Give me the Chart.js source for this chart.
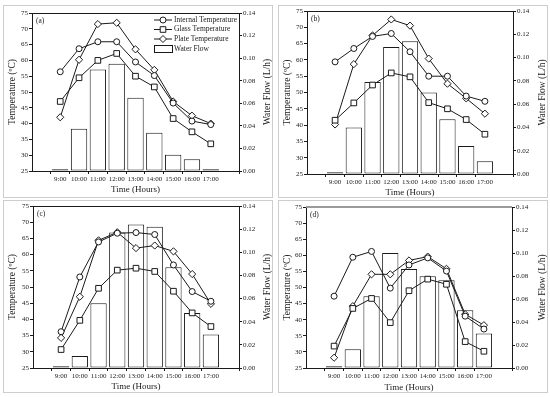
<!DOCTYPE html>
<html>
<head>
<meta charset="utf-8">
<script src="https://cdn.jsdelivr.net/npm/chart.js@4.4.1/dist/chart.umd.min.js"></script>
<style>
body { margin: 0; background: #fff; width: 550px; height: 397px; position: relative; overflow: hidden; }
.moldura { position: absolute; box-sizing: border-box; border: 1px solid #cdcdcd; }
canvas { position: absolute; }
</style>
</head>
<body>
<div class="moldura" style="left:3px;top:5px;width:270px;height:193px"></div>
<div class="moldura" style="left:278px;top:5px;width:270px;height:193px"></div>
<div class="moldura" style="left:3px;top:200px;width:270px;height:193px"></div>
<div class="moldura" style="left:278px;top:200px;width:270px;height:193px"></div>
<canvas id="grafico_a" width="275" height="198" style="left:0;top:0"></canvas>
<canvas id="grafico_b" width="275" height="198" style="left:275px;top:0"></canvas>
<canvas id="grafico_c" width="275" height="199" style="left:0;top:198px"></canvas>
<canvas id="grafico_d" width="275" height="199" style="left:275px;top:198px"></canvas>
<script>
/* horas do ensaio e rotulos do eixo x */
const horas = [9, 10, 11, 12, 13, 14, 15, 16, 17];
const rotulos_horas = ['9:00', '10:00', '11:00', '12:00', '13:00', '14:00', '15:00', '16:00', '17:00'];

const nomes_series = ['Internal Temperature', 'Glass Temperature', 'Plate Temperature'];
const nome_vazao = 'Water Flow';

/* (a) */
const interna_a = [56.4, 63.7, 65.9, 65.9, 59.5, 55.2, 46.5, 40.8, 39.7];
const vidro_a = [47.0, 54.5, 60.0, 62.2, 55.0, 51.6, 41.6, 37.4, 33.6];
const placa_a = [42.0, 60.2, 71.5, 71.9, 63.5, 57.0, 47.0, 42.5, 40.0];
const vazao_a = [0.0016, 0.0375, 0.090, 0.095, 0.065, 0.034, 0.0145, 0.0105, 0.0016];

/* (b) */
const interna_b = [59.4, 63.5, 67.2, 68.1, 62.5, 55.0, 55.0, 48.9, 47.3];
const vidro_b = [41.5, 46.8, 52.3, 56.0, 54.8, 46.9, 45.0, 41.7, 37.2];
const placa_b = [40.2, 58.7, 67.5, 72.4, 70.5, 60.4, 52.7, 48.2, 43.5];
const vazao_b = [0.0016, 0.040, 0.079, 0.109, 0.114, 0.070, 0.047, 0.024, 0.011];

/* (c) */
const interna_c = [36.2, 53.1, 63.9, 66.6, 66.8, 66.2, 56.8, 48.6, 45.6];
const vidro_c = [30.7, 39.7, 49.6, 55.2, 55.8, 54.8, 48.7, 42.0, 37.8];
const placa_c = [34.3, 47.0, 64.4, 66.9, 62.0, 62.8, 61.0, 54.0, 44.8];
const vazao_c = [0.0016, 0.0104, 0.056, 0.117, 0.124, 0.122, 0.087, 0.0476, 0.029];

/* (d) */
const interna_d = [47.3, 59.4, 61.2, 49.8, 57.0, 59.2, 55.1, 41.1, 37.1];
const vidro_d = [31.8, 43.5, 46.6, 39.1, 49.0, 52.6, 51.0, 33.2, 30.2];
const placa_d = [28.2, 44.2, 54.1, 54.1, 58.4, 59.6, 55.8, 41.7, 38.3];
const vazao_d = [0.0016, 0.0162, 0.0624, 0.0999, 0.086, 0.0797, 0.0762, 0.0502, 0.030];

const fonte = 'Liberation Serif';
const preto = '#1a1a1a';

function pontos(valores) {
    return horas.map((h, i) => ({ x: h, y: valores[i] }));
}

function rotuloHora(v) {
    const i = horas.indexOf(v);
    return i >= 0 ? rotulos_horas[i] : '';
}

function desenharMarcador(ctx, estilo, x, y) {
    ctx.beginPath();
    if (estilo === 'circle') {
        ctx.arc(x, y, 3, 0, Math.PI * 2);
    } else if (estilo === 'rect') {
        ctx.rect(x - 2.8, y - 2.8, 5.6, 5.6);
    } else {
        ctx.moveTo(x - 3.5, y); ctx.lineTo(x, y - 3.5); ctx.lineTo(x + 3.5, y); ctx.lineTo(x, y + 3.5);
        ctx.closePath();
    }
    ctx.fillStyle = '#fff';
    ctx.fill();
    ctx.stroke();
}

/* moldura, letra do painel, titulo da direita e legenda interna */
const extras = {
    id: 'extras',
    afterDraw(chart, args, op) {
        const ctx = chart.ctx;
        const a = chart.chartArea;
        ctx.save();
        ctx.strokeStyle = preto;
        ctx.lineWidth = 1;
        ctx.strokeRect(Math.round(a.left) + 0.5, Math.round(a.top) + 0.5, Math.round(a.right - a.left), Math.round(a.bottom - a.top));
        if (op.topoCinza) {
            ctx.strokeStyle = '#9a9a9a';
            ctx.lineWidth = 2;
            ctx.beginPath();
            ctx.moveTo(a.left, Math.round(a.top));
            ctx.lineTo(a.right, Math.round(a.top));
            ctx.stroke();
            ctx.strokeStyle = preto;
            ctx.lineWidth = 1;
        }

        ctx.fillStyle = preto;
        ctx.font = '7.5px "' + fonte + '"';
        ctx.textBaseline = 'middle';
        ctx.textAlign = 'left';
        ctx.fillText(op.letra, a.left + 4, a.top + 8);

        ctx.font = '9.5px "' + fonte + '"';
        ctx.textAlign = 'center';
        ctx.translate(267, (a.top + a.bottom) / 2);
        ctx.rotate(-Math.PI / 2);
        ctx.fillText('Water Flow (L/h)', 0, 0);
        ctx.setTransform(1, 0, 0, 1, 0, 0);

        if (op.legenda) {
            const estilos = ['circle', 'rect', 'rectRot'];
            const ys = [20, 29.5, 39, 48.7];
            ctx.font = '7.5px "' + fonte + '"';
            ctx.textAlign = 'left';
            ctx.lineWidth = 1;
            ctx.strokeStyle = preto;
            for (let i = 0; i < 3; i++) {
                ctx.beginPath();
                ctx.moveTo(154, ys[i]);
                ctx.lineTo(172, ys[i]);
                ctx.stroke();
                desenharMarcador(ctx, estilos[i], 163, ys[i]);
                ctx.fillStyle = preto;
                ctx.fillText(nomes_series[i], 174, ys[i]);
            }
            ctx.fillStyle = '#fff';
            ctx.fillRect(154.5, 45.5, 18, 7);
            ctx.strokeRect(154.5, 45.5, 18, 7);
            ctx.fillStyle = preto;
            ctx.fillText(nome_vazao, 174, ys[3]);
        }
        ctx.restore();
    }
};

function linha(nome, valores, estilo) {
    return {
        type: 'line',
        label: nome,
        data: pontos(valores),
        yAxisID: 'y',
        borderColor: preto,
        borderWidth: 1,
        pointStyle: estilo,
        pointRadius: estilo === 'circle' ? 3 : (estilo === 'rect' ? 4 : 3.6),
        pointBackgroundColor: '#fff',
        pointBorderColor: preto,
        pointBorderWidth: 1,
        tension: 0,
        order: 1
    };
}

function criarGrafico(id, letra, interna, vidro, placa, vazao, caixa) {
    const fonteTick = { family: fonte, size: 7 };
    const config = {
        type: 'bar',
        data: {
            datasets: [
                linha(nomes_series[0], interna, 'circle'),
                linha(nomes_series[1], vidro, 'rect'),
                linha(nomes_series[2], placa, 'rectRot'),
                {
                    type: 'bar',
                    label: nome_vazao,
                    data: pontos(vazao),
                    yAxisID: 'y1',
                    backgroundColor: '#fff',
                    borderColor: preto,
                    borderWidth: 1,
                    borderSkipped: false,
                    barPercentage: 0.87,
                    categoryPercentage: 1,
                    order: 2
                }
            ]
        },
        options: {
            responsive: false,
            animation: false,
            events: [],
            layout: { padding: { top: caixa.topo, left: 0, right: 0, bottom: 0 } },
            plugins: {
                legend: { display: false },
                tooltip: { enabled: false },
                extras: { letra: letra, legenda: caixa.legenda, topoCinza: caixa.topoCinza }
            },
            scales: {
                x: {
                    type: 'linear',
                    min: 8,
                    max: 18,
                    ticks: { stepSize: 1, autoSkip: false, maxRotation: 0, padding: 1, color: preto, font: fonteTick, callback: v => rotuloHora(v) },
                    grid: {
                        drawOnChartArea: false, drawTicks: true, tickLength: 3,
                        color: c => (c.tick && (c.tick.value === 8 || c.tick.value === 18)) ? 'rgba(0,0,0,0)' : preto
                    },
                    border: { display: false },
                    title: { display: true, text: 'Time (Hours)', color: preto, font: { family: fonte, size: 9 }, padding: { top: 0, bottom: caixa.tituloX } },
                    afterFit: s => { s.height = caixa.baixo; s.paddingLeft = 0; s.paddingRight = 0; }
                },
                y: {
                    position: 'left',
                    min: 25,
                    max: 75,
                    ticks: { stepSize: 5, padding: 1, color: preto, font: fonteTick },
                    grid: { drawOnChartArea: false, drawTicks: true, tickLength: 3, color: preto },
                    border: { display: false },
                    title: { display: true, text: 'Temperature (ºC)', color: preto, font: { family: fonte, size: 9.5 }, padding: { top: 7, bottom: 0 } },
                    afterFit: s => { s.width = caixa.esq; s.paddingTop = 0; s.paddingBottom = 0; }
                },
                y1: {
                    position: 'right',
                    min: 0,
                    max: 0.14,
                    ticks: { stepSize: 0.02, padding: 1, color: preto, font: fonteTick, callback: v => v.toFixed(2) },
                    grid: { drawOnChartArea: false, drawTicks: true, tickLength: 3, color: preto },
                    border: { display: false },
                    afterFit: s => { s.width = caixa.dir; s.paddingTop = 0; s.paddingBottom = 0; }
                }
            }
        },
        plugins: [extras]
    };
    return new Chart(document.getElementById(id), config);
}

const grafico_a = criarGrafico('grafico_a', '(a)', interna_a, vidro_a, placa_a, vazao_a,
    { topo: 13, esq: 32, dir: 36, baixo: 27, tituloX: 3, legenda: true });
const grafico_b = criarGrafico('grafico_b', '(b)', interna_b, vidro_b, placa_b, vazao_b,
    { topo: 11, esq: 32, dir: 37, baixo: 24, tituloX: 0 });
const grafico_c = criarGrafico('grafico_c', '(c)', interna_c, vidro_c, placa_c, vazao_c,
    { topo: 8, esq: 33, dir: 36, baixo: 29, tituloX: 5 });
const grafico_d = criarGrafico('grafico_d', '(d)', interna_d, vidro_d, placa_d, vazao_d,
    { topo: 9, esq: 31, dir: 38, baixo: 29, tituloX: 4, topoCinza: true });
</script>
</body>
</html>
